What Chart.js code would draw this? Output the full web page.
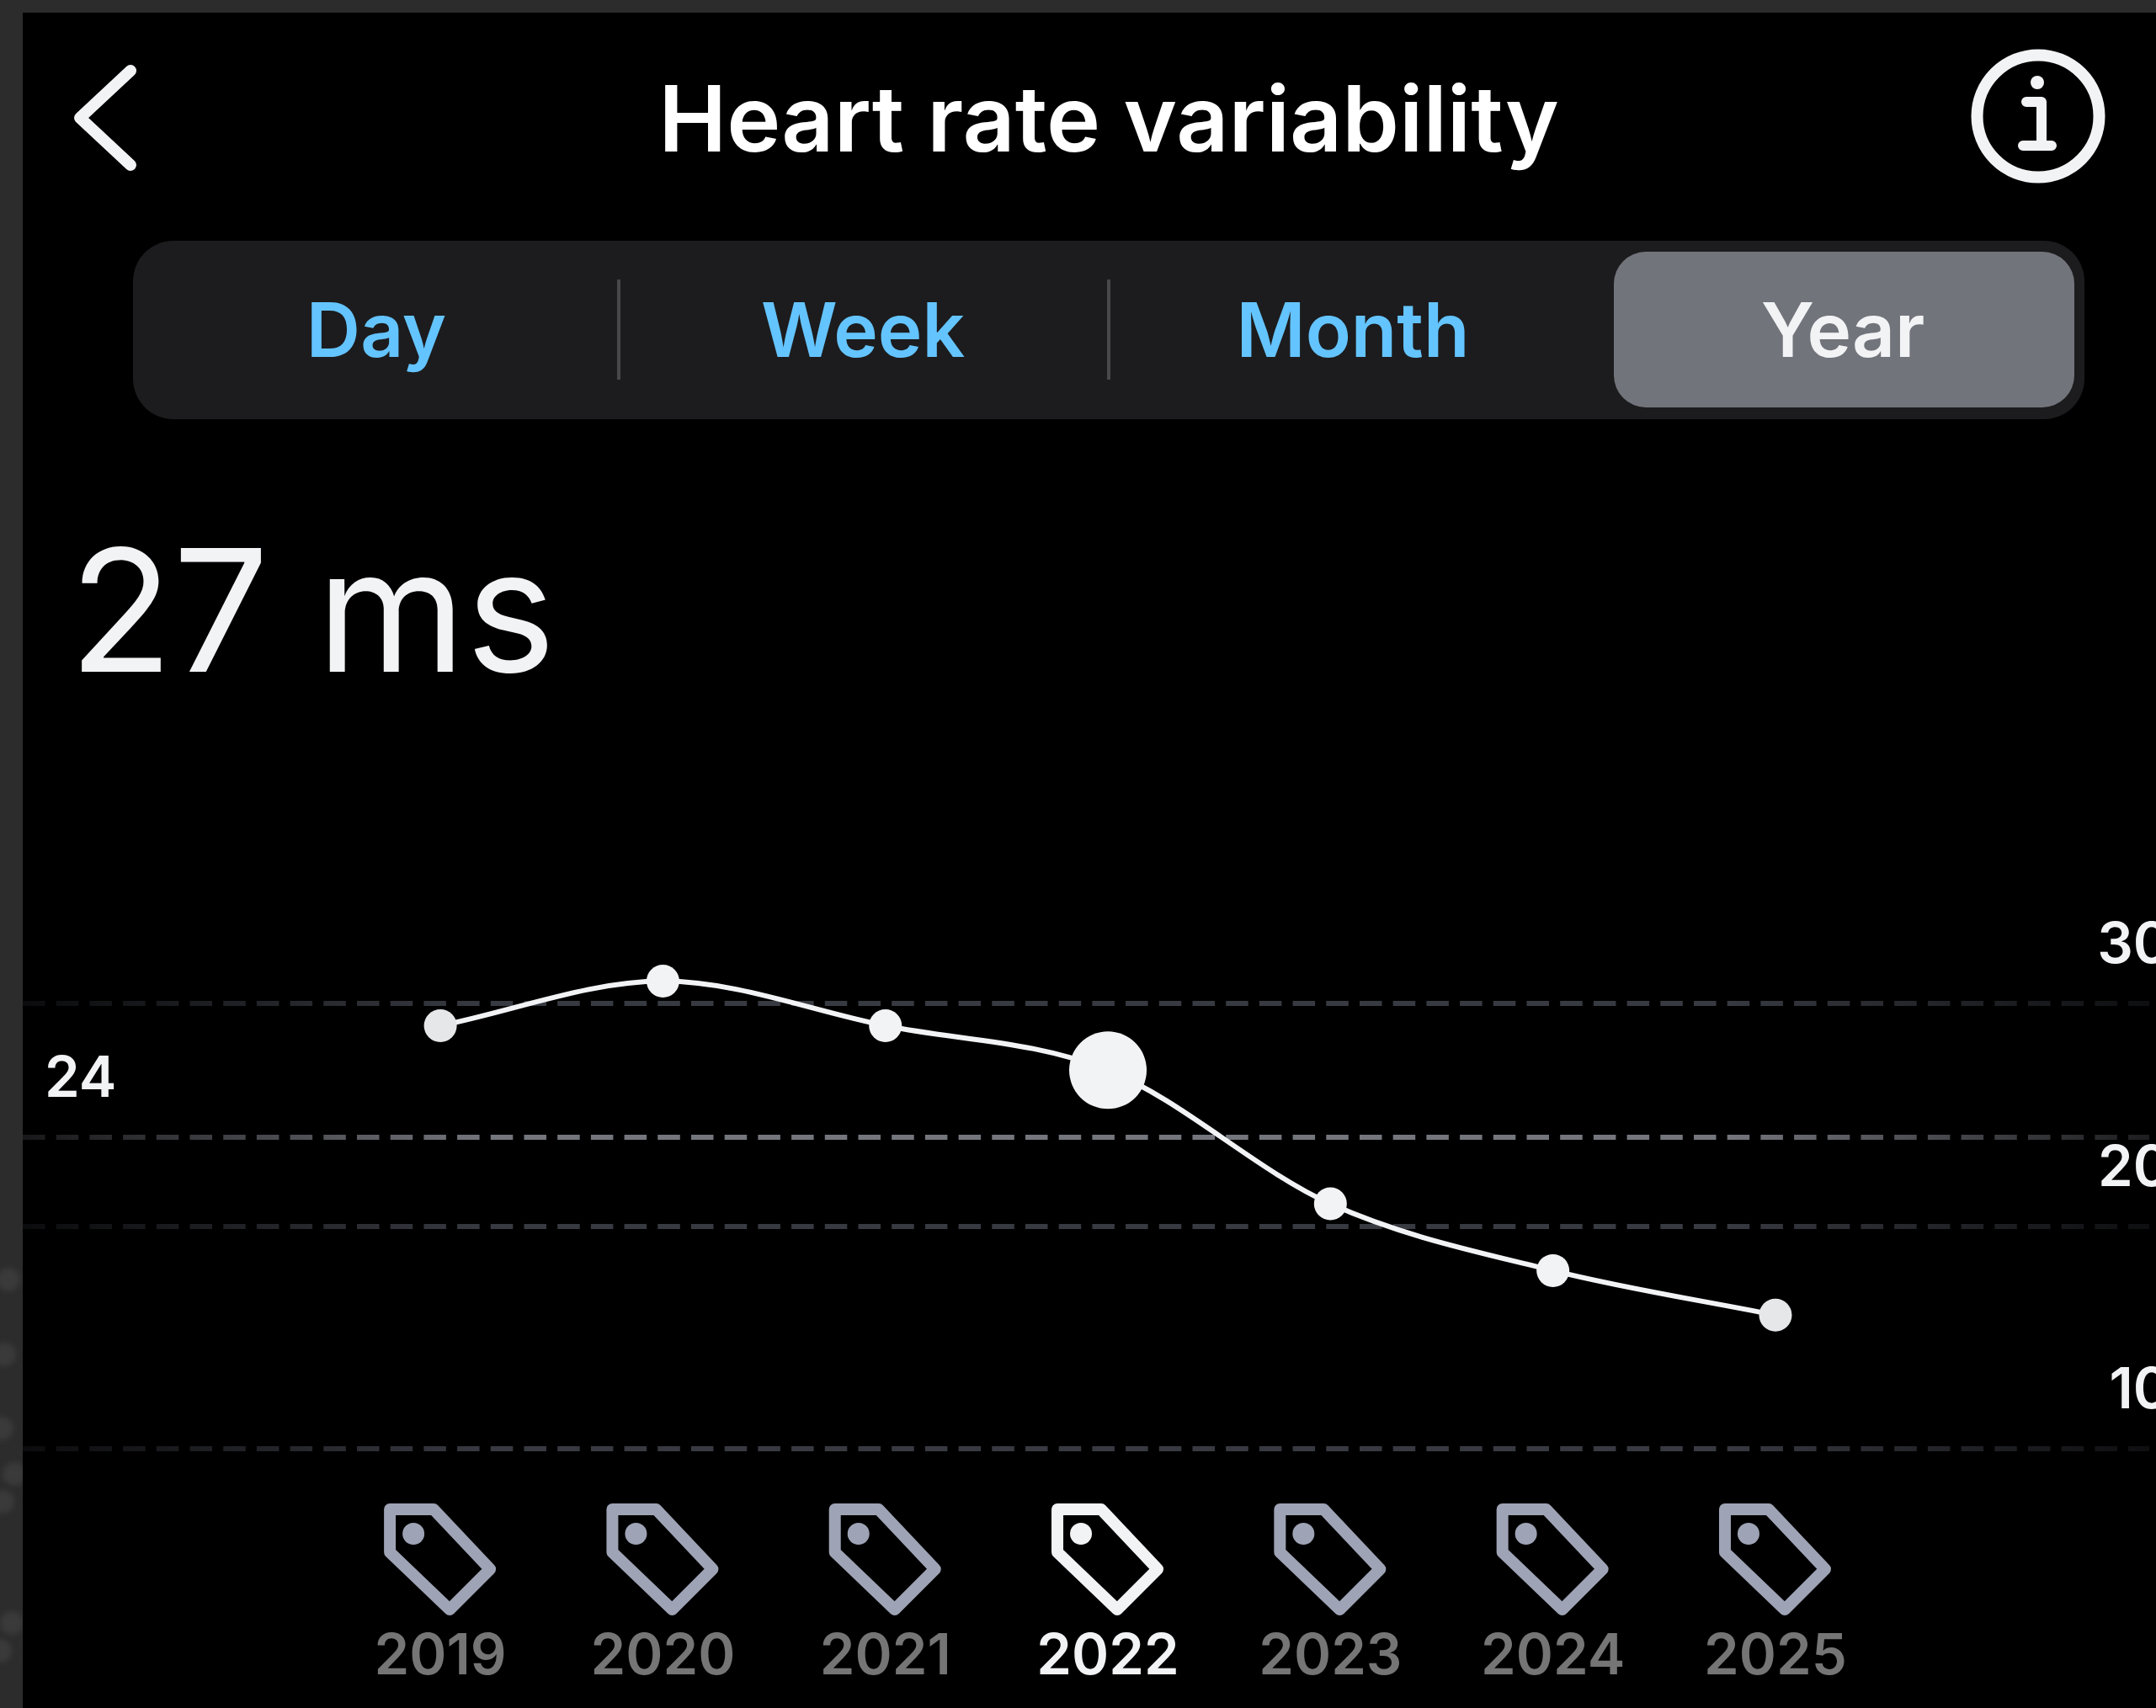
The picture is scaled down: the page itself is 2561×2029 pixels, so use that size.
<!DOCTYPE html>
<html lang="en">
<head>
  <meta charset="UTF-8">
  <title>Heart rate variability</title>
  <script src="https://cdn.jsdelivr.net/npm/chart.js"></script>
  <style>
    html, body { margin: 0; padding: 0; background: #2c2c2c; }
    body { position: relative; width: 2561px; height: 2029px; overflow: hidden; font-family: Inter, sans-serif; }
    .screen { position: absolute; left: 27px; top: 15px; right: 0; bottom: 0; background: #000; }
    .blob { position: absolute; border-radius: 50%; background: #3a3a3a; filter: blur(3px); }
    .txt { position: absolute; line-height: 1; white-space: nowrap; }
    .center { transform: translateX(-50%); }
    h1 { margin: 0; left: 1317px; top: 87px; font-size: 108.5px; font-weight: 600; color: #fff; }
    .big { left: 82px; top: 624px; font-size: 202px; font-weight: 400; color: #f2f3f5; }
    .segments { position: absolute; left: 158px; top: 286px; width: 2318px; height: 212px; background: #1c1c1e; border-radius: 48px; }
    .pill { position: absolute; left: 1917px; top: 299px; width: 547px; height: 185px; background: #72747b; border-radius: 38px; }
    .divider { position: absolute; top: 332px; width: 4px; height: 119px; background: #48484a; }
    .seg { top: 347px; font-size: 89px; font-weight: 600; color: #64c4ff; }
    .seg.active { color: #f2f3f5; }
    svg.icon { position: absolute; left: 0; top: 0; }
    #chart { position: absolute; left: 0; top: 663px; }
  </style>
</head>
<body>
  <div class="blob" style="left:-4px;top:1506px;width:28px;height:28px"></div>
  <div class="blob" style="left:-9px;top:1595px;width:28px;height:28px"></div>
  <div class="blob" style="left:-12px;top:1683px;width:28px;height:28px"></div>
  <div class="blob" style="left:3px;top:1737px;width:28px;height:28px"></div>
  <div class="blob" style="left:-11px;top:1770px;width:28px;height:28px"></div>
  <div class="blob" style="left:0px;top:1914px;width:28px;height:28px"></div>
  <div class="blob" style="left:-14px;top:1947px;width:28px;height:28px"></div>
  <div class="screen"></div>

  <svg class="icon" width="2561" height="300" fill="none">
    <polyline points="155,84 95,140 155,196" stroke="#f2f3f5" stroke-width="14" stroke-linecap="round" stroke-linejoin="round"/>
    <circle cx="2421" cy="138" r="72.5" stroke="#f2f3f5" stroke-width="14"/>
    <circle cx="2420" cy="98" r="8" fill="#f2f3f5"/>
    <path d="M2407 121 H2425 V172 M2403 173 H2437" stroke="#f2f3f5" stroke-width="12" stroke-linecap="round" stroke-linejoin="round"/>
  </svg>
  <h1 class="txt center">Heart rate variability</h1>

  <div class="segments"></div>
  <div class="pill"></div>
  <div class="divider" style="left:733px"></div>
  <div class="divider" style="left:1315px"></div>
  <div class="txt center seg" style="left:447px">Day</div>
  <div class="txt center seg" style="left:1025px">Week</div>
  <div class="txt center seg" style="left:1607px">Month</div>
  <div class="txt center seg active" style="left:2189px">Year</div>

  <div class="txt big">27 ms</div>

  <canvas id="chart" width="2561" height="1366"></canvas>

  <script>
    const years = [2019, 2020, 2021, 2022, 2023, 2024, 2025];
    const hrvValues = [29, 31, 29, 27, 21, 18, 16];
    const selectedYear = 2022;
    const rightTicks = [10, 20, 30];
    const averageTick = [24];

    const WHITE = '#f2f3f5';
    const TICK_FONT = { family: 'Inter', size: 67, weight: '600' };

    // dashes fade out towards both ends of the screen
    function gridColor(ctx) {
      const chart = ctx.chart;
      const area = chart.chartArea;
      const strong = ctx.tick && ctx.tick.value === averageTick[0];
      const rgb = strong ? '116,118,126' : '56,58,66';
      if (!area) return 'rgb(' + rgb + ')';
      const g = chart.ctx.createLinearGradient(area.left, 0, area.right, 0);
      g.addColorStop(0, 'rgba(' + rgb + ',0.2)');
      g.addColorStop(0.22, 'rgba(' + rgb + ',1)');
      g.addColorStop(0.8, 'rgba(' + rgb + ',1)');
      g.addColorStop(1, 'rgba(' + rgb + ',0.25)');
      return g;
    }

    // tick padding also eats into the plot height, which has to stay fixed here
    function noAxisPadding(axis) {
      axis.paddingTop = 0;
      axis.paddingBottom = 0;
    }

    const tagPath = new Path2D('M-60 -60 L-8 -60 L59 11 L11 59 L-60 -9 Z');

    const tagIcons = {
      id: 'tagIcons',
      afterDraw(chart) {
        const c = chart.ctx;
        const y = chart.chartArea.bottom + 132;
        years.forEach(year => {
          const color = year === selectedYear ? WHITE : '#9ea3b5';
          c.save();
          c.translate(chart.scales.x.getPixelForValue(year), y);
          c.strokeStyle = color;
          c.fillStyle = color;
          c.lineWidth = 14;
          c.lineJoin = 'round';
          c.stroke(tagPath);
          c.beginPath();
          c.arc(-32, -31, 13, 0, Math.PI * 2);
          c.fill();
          c.restore();
        });
      }
    };

    new Chart(document.getElementById('chart'), {
      type: 'line',
      data: {
        datasets: [{
          data: years.map((year, i) => ({ x: year, y: hrvValues[i] })),
          borderColor: WHITE,
          borderWidth: 6,
          cubicInterpolationMode: 'monotone',
          pointBackgroundColor: years.map((y, i) => (i === 0 || i === years.length - 1) ? '#e6e7e9' : WHITE),
          pointBorderWidth: 0,
          pointRadius: years.map(y => y === selectedYear ? 46 : 19.5),
          clip: false
        }]
      },
      options: {
        responsive: false,
        animation: false,
        events: [],
        layout: { autoPadding: false, padding: 0 },
        plugins: { legend: { display: false }, tooltip: { enabled: false } },
        scales: {
          x: {
            type: 'linear',
            min: 2017.123,
            max: 2026.68,
            grid: { display: false },
            border: { display: false },
            afterBuildTicks: axis => { axis.ticks = years.map(v => ({ value: v })); },
            afterFit: axis => { axis.height = 308; },
            ticks: {
              autoSkip: false,
              maxRotation: 0,
              padding: 200,
              font: TICK_FONT,
              color: ctx => ctx.tick.value === selectedYear ? WHITE : '#757575',
              callback: v => String(v)
            }
          },
          y: {
            position: 'right',
            min: 10,
            max: 50,
            border: { display: false, dash: [26.5, 13.2] },
            grid: { drawTicks: false, lineWidth: 6, color: gridColor },
            afterBuildTicks: axis => { axis.ticks = rightTicks.concat(averageTick).map(v => ({ value: v })); },
            afterFit: axis => { axis.width = 8; noAxisPadding(axis); },
            ticks: {
              mirror: true,
              padding: 25,
              labelOffset: -68,
              autoSkip: false,
              font: TICK_FONT,
              color: WHITE,
              callback: v => averageTick.includes(v) ? '' : String(v)
            }
          },
          yAverage: {
            position: 'left',
            min: 10,
            max: 50,
            grid: { display: false },
            border: { display: false },
            afterBuildTicks: axis => { axis.ticks = averageTick.map(v => ({ value: v })); },
            afterFit: axis => { axis.width = 27; noAxisPadding(axis); },
            ticks: {
              mirror: true,
              padding: 26,
              labelOffset: -68,
              font: TICK_FONT,
              color: WHITE,
              callback: v => String(v)
            }
          }
        }
      },
      plugins: [tagIcons]
    });
  </script>
</body>
</html>
